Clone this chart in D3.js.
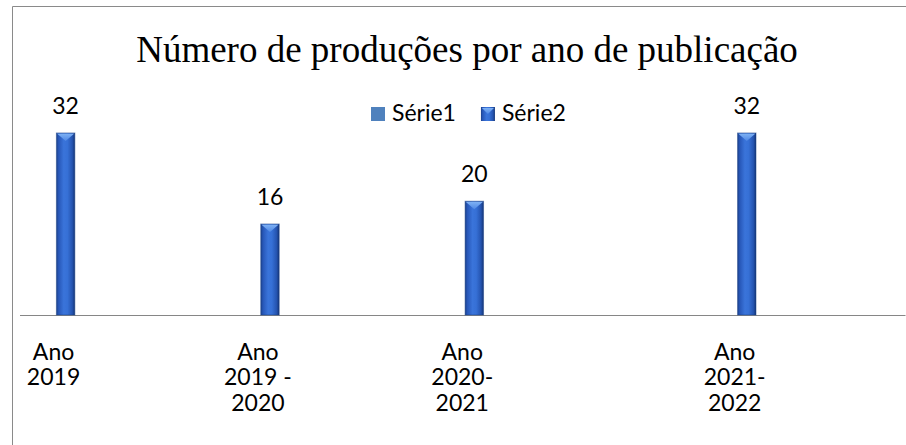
<!DOCTYPE html>
<html><head><meta charset="utf-8">
<script src="https://cdn.jsdelivr.net/npm/d3@7"></script>
<style>html,body{margin:0;padding:0;background:#fff;} svg{display:block;}</style>
</head><body>
<svg id="chart" width="906" height="445"></svg>
<script>
// ---- data ----
const title = "Número de produções por ano de publicação";
const categories = ["Ano 2019", "", "", "Ano 2019 - 2020", "", "", "Ano 2020-2021", "", "", "", "Ano 2021-2022", "", ""];
const seriesNames = ["Série1", "Série2"];
const serie1 = [null, null, null, null, null, null, null, null, null, null, null, null, null];
const serie2 = [32, null, null, 16, null, null, 20, null, null, null, 32, null, null];
const yMax = 35;

// ---- layout ----
const svg = d3.select("#chart");
const W = 906, H = 445;
const plot = {left: 19.5, right: 905, top: 115.9, bottom: 315};
const labelFont = "Lato, 'Noto Sans', sans-serif";
const fs = 23;

const x0 = d3.scaleBand().domain(d3.range(categories.length)).range([plot.left, plot.right]).padding(0);
const x1 = d3.scaleBand().domain(seriesNames).range([0, x0.bandwidth()]).paddingInner(0.236).paddingOuter(0.529);
const y = d3.scaleLinear().domain([0, yMax]).range([plot.bottom, plot.top]);

// defs: bar gradient
const defs = svg.append("defs");
const g2 = defs.append("linearGradient").attr("id", "bar2").attr("x1", 0).attr("x2", 1).attr("y1", 0).attr("y2", 0);
[[0, "#1b408a"], [0.12, "#2757b8"], [0.4, "#3a74da"], [0.6, "#3670d6"], [0.86, "#2554b0"], [1, "#143576"]]
  .forEach(([o, c]) => g2.append("stop").attr("offset", o).attr("stop-color", c));
const cap = defs.append("linearGradient").attr("id", "cap2").attr("x1", 0).attr("x2", 0).attr("y1", 0).attr("y2", 1);
[[0, "#7fb2f5"], [1, "#4f88e4"]].forEach(([o, c]) => cap.append("stop").attr("offset", o).attr("stop-color", c));

// frame (chart border, cut by the picture)
svg.append("path").attr("d", `M12.5,${H} V6.5 H${W}`).attr("fill", "none").attr("stroke", "#8a8a8a").attr("stroke-width", 1);

// title
svg.append("text").attr("x", 467).attr("y", 62).attr("text-anchor", "middle")
  .attr("font-family", "'Liberation Serif', 'Times New Roman', serif").attr("font-size", 37).attr("fill", "#000")
  .text(title);

// legend
const legend = svg.append("g").attr("font-family", labelFont).attr("font-size", fs);
let lx = 371;
seriesNames.forEach((name, i) => {
  const g = legend.append("g").attr("transform", `translate(${lx},107)`);
  if (i === 0) {
    g.append("rect").attr("width", 14).attr("height", 14).attr("fill", "#4f81bd");
  } else {
    g.append("rect").attr("width", 14).attr("height", 14).attr("fill", "url(#bar2)");
    g.append("path").attr("d", "M1,1 H13 L7,7 Z").attr("fill", "url(#cap2)");
  }
  const t = g.append("text").attr("x", 21).attr("y", 14).attr("fill", "#000").text(name);
  lx += 21 + t.node().getComputedTextLength() + 25;
});

// axis
const axis = svg.append("g").attr("transform", `translate(0,${plot.bottom})`)
  .call(d3.axisBottom(x0).tickSize(0).tickSizeOuter(0).tickFormat(i => categories[i]));
axis.select(".domain").attr("stroke", "#868686").attr("stroke-width", 1.2);
axis.selectAll(".tick text").attr("font-family", labelFont).attr("font-size", fs).attr("fill", "#000");

// wrap labels
const ctx = document.createElement("canvas").getContext("2d");
ctx.font = fs + "px Lato";
function wrap(str, maxW) {
  const toks = [];
  str.split(/\s+/).forEach((w, wi) => {
    const parts = w.length > 1 ? w.split(/(?<=-)/) : [w];
    parts.forEach((p, pi) => toks.push({t: p, sep: (pi === 0 && wi > 0) ? " " : ""}));
  });
  const lines = [];
  let cur = "";
  toks.forEach(tk => {
    const cand = cur === "" ? tk.t : cur + tk.sep + tk.t;
    if (cur !== "" && ctx.measureText(cand).width > maxW) { lines.push(cur); cur = tk.t; }
    else cur = cand;
  });
  if (cur) lines.push(cur);
  return lines;
}
axis.selectAll(".tick text").each(function(i) {
  const el = d3.select(this);
  const lines = categories[i] ? wrap(categories[i], 72) : [];
  el.text(null).attr("y", null).attr("dy", null);
  lines.forEach((ln, k) => el.append("tspan").attr("x", 0).attr("y", 44.5 + k * 25.5).text(ln));
});

// bars
const data = [];
categories.forEach((c, i) => {
  [serie1, serie2].forEach((s, si) => { if (s[i] != null) data.push({i, series: seriesNames[si], v: s[i]}); });
});
const bars = svg.append("g").selectAll("g").data(data).join("g")
  .attr("transform", d => `translate(${x0(d.i) + x1(d.series)},0)`);
const bw = x1.bandwidth();
bars.append("rect").attr("x", 0).attr("y", d => y(d.v)).attr("width", bw).attr("height", d => y(0) - y(d.v))
  .attr("fill", d => d.series === "Série2" ? "url(#bar2)" : "#4f81bd");
bars.append("path").attr("d", d => `M0.5,${y(d.v) + 0.5} H${bw - 0.5} L${bw / 2},${y(d.v) + 8} Z`)
  .attr("fill", "url(#cap2)");
bars.append("rect").attr("x", 0).attr("y", d => y(d.v)).attr("width", bw).attr("height", d => y(0) - y(d.v))
  .attr("fill", "none").attr("stroke", "#1a3f86").attr("stroke-opacity", 0.5).attr("stroke-width", 1);

// data labels
svg.append("g").attr("font-family", labelFont).attr("font-size", fs).attr("text-anchor", "middle")
  .selectAll("text").data(data).join("text")
  .attr("x", d => x0(d.i) + x1(d.series) + bw / 2)
  .attr("y", d => y(d.v) - 19)
  .attr("fill", "#000")
  .text(d => d.v);
</script>
</body></html>
